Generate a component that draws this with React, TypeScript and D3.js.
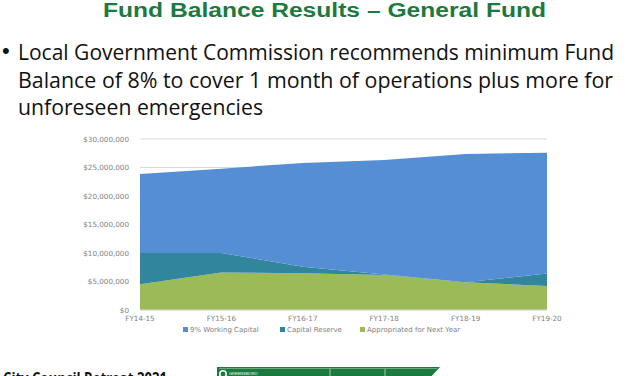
import React from "react";
import * as d3 from "d3";

const categories = ["FY14-15", "FY15-16", "FY16-17", "FY17-18", "FY18-19", "FY19-20"];
const workingCapital = [13.85, 14.8, 18.2, 20.05, 22.5, 21.2].map((v) => v * 1e6);
const capitalReserve = [5.5, 3.4, 1.15, 0.1, 0, 2.2].map((v) => v * 1e6);
const appropriated = [4.5, 6.6, 6.45, 6.15, 4.87, 4.2].map((v) => v * 1e6);
const yTicks = [0, 5e6, 10e6, 15e6, 20e6, 25e6, 30e6];
const seriesNames = ["9% Working Capital", "Capital Reserve", "Appropriated for Next Year"];
const seriesColors = ["#558ED5", "#31859C", "#9BBB59"];

const title = "Fund Balance Results \u2013 General Fund";
const bulletLines = [
  "Local Government Commission recommends minimum Fund",
  "Balance of 8% to cover 1 month of operations plus more for",
  "unforeseen emergencies",
];
const footerText = "City Council Retreat 2021";

export default function App() {
  const W = 627;
  const H = 376;
  const x = d3.scalePoint<string>().domain(categories).range([140, 547]);
  const y = d3.scaleLinear().domain([0, 30e6]).range([310, 139]);

  const rows = categories.map((c, i) => ({
    cat: c,
    app: appropriated[i],
    res: capitalReserve[i],
    work: workingCapital[i],
  }));
  const keys = ["app", "res", "work"];
  const stacked = d3.stack<any>().keys(keys)(rows);
  const colorByKey: Record<string, string> = {
    work: seriesColors[0],
    res: seriesColors[1],
    app: seriesColors[2],
  };
  const area = d3
    .area<any>()
    .x((d) => x(d.data.cat) as number)
    .y0((d) => y(d[0]))
    .y1((d) => y(d[1]));

  const fmt = (v: number) => (v === 0 ? "$0" : "$" + d3.format(",")(v));

  const legendX = [183, 280, 360];
  const textFont = "'Open Sans', 'Liberation Sans', sans-serif";
  const chartFont = "'DejaVu Sans', Verdana, sans-serif";

  return (
    <svg
      width={W}
      height={H}
      style={{ position: "fixed", left: 0, top: 0, background: "#fff" }}
      fontFamily="'Liberation Sans', Arial, sans-serif"
    >
      <rect width={W} height={H} fill="#fff" />
      <text
        x={103}
        y={17}
        fontSize={19.5}
        fontWeight="bold"
        fill="#1B7A3D"
        textLength={443}
        lengthAdjust="spacingAndGlyphs"
      >
        {title}
      </text>
      <text x={2} y={58} fontSize={22} fill="#111">
        {"\u2022"}
      </text>
      {bulletLines.map((l, i) => (
        <text
          key={i}
          x={18}
          y={60 + i * 27.5}
          fontSize={21}
          fontFamily={textFont}
          fill="#111"
          textLength={[596, 595, 245][i]}
          lengthAdjust="spacingAndGlyphs"
        >
          {l}
        </text>
      ))}

      {yTicks.map((t) => (
        <g key={t}>
          <line x1={140} x2={547} y1={y(t)} y2={y(t)} stroke="#D9D9D9" strokeWidth={1} />
          <text
            x={129}
            y={y(t) + 2.5}
            fontSize={7.2}
            fill="#7F7F7F"
            textAnchor="end"
            fontFamily={chartFont}
          >
            {fmt(t)}
          </text>
        </g>
      ))}

      {stacked.map((s) => (
        <path key={s.key} d={area(s as any) || ""} fill={colorByKey[s.key]} />
      ))}
      <line x1={140} x2={547} y1={y(0)} y2={y(0)} stroke="#D9D9D9" strokeWidth={1} />

      {categories.map((c) => (
        <text
          key={c}
          x={x(c) as number}
          y={321}
          fontSize={7.2}
          fill="#7F7F7F"
          textAnchor="middle"
          fontFamily={chartFont}
        >
          {c}
        </text>
      ))}

      {seriesNames.map((n, i) => (
        <g key={n}>
          <rect x={legendX[i]} y={327} width={5} height={5} fill={seriesColors[i]} />
          <text x={legendX[i] + 7} y={332} fontSize={7} fill="#7F7F7F" fontFamily={chartFont}>
            {n}
          </text>
        </g>
      ))}

      <text
        x={3}
        y={384}
        fontSize={16}
        fontWeight="bold"
        fill="#111"
        fontFamily={textFont}
        textLength={164}
        lengthAdjust="spacingAndGlyphs"
      >
        {footerText}
      </text>

      <path d="M217,367 L440,367 L428,380 L217,380 Z" fill="#1B7A3D" />
      <line x1={219} x2={437} y1={368.5} y2={368.5} stroke="#9fcaa9" strokeWidth={0.6} />
      <circle cx={223} cy={374} r={3.2} fill="none" stroke="#fff" strokeWidth={1.6} />
      <text x={229} y={375} fontSize={4} fill="#fff">
        GREENSBORO
      </text>
      <line x1={330} x2={330} y1={369} y2={376} stroke="#fff" strokeWidth={0.6} />
      <line x1={385} x2={385} y1={369} y2={376} stroke="#fff" strokeWidth={0.6} />
    </svg>
  );
}
